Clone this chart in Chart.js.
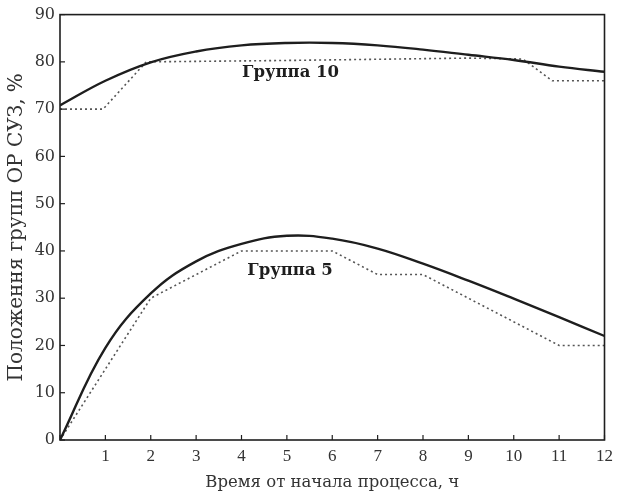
<!DOCTYPE html>
<html>
<head>
<meta charset="utf-8">
<script src="https://cdn.jsdelivr.net/npm/chart.js@4.4.1/dist/chart.umd.min.js"></script>
<style>
  html, body { margin: 0; padding: 0; background: #fff; }
  #wrap { width: 619px; height: 498px; }
</style>
</head>
<body>
<div id="wrap"><canvas id="c" width="619" height="498"></canvas></div>
<script>
// ---- data ----
const hours = [0, 1, 2, 3, 4, 5, 6, 7, 8, 9, 10, 11, 12];
const group10Calc = [70.8, 76, 79.9, 82.2, 83.5, 84, 84, 83.5, 82.6, 81.5, 80.4, 79, 77.9];
const group10MeasX = [0, 0.95, 1.9, 5, 9, 10.2, 10.85, 12];
const group10MeasY = [70, 70, 80, 80.3, 80.8, 80.6, 76, 76];
const group5Calc = [0, 19.5, 31, 37.8, 41.5, 43.2, 42.6, 40.5, 37.3, 33.7, 29.9, 26, 22];
const group5MeasX = [0, 1, 2, 3, 4, 6, 7, 8, 11, 12];
const group5MeasY = [0, 15, 30, 35, 40, 40, 35, 35, 20, 20];
const xTicks = [0, 1, 2, 3, 4, 5, 6, 7, 8, 9, 10, 11, 12];
const yTicks = [0, 10, 20, 30, 40, 50, 60, 70, 80, 90];
const curveNames = ['Группа 10', 'Группа 5'];
const yTitle = 'Положення групп ОР СУЗ, %';
const xTitle = 'Время от начала процесса, ч';

const toXY = (xs, ys) => xs.map((x, i) => ({ x: x, y: ys[i] }));

const INK = '#1e1e1e';
const SERIF = '"Liberation Serif", "DejaVu Serif", serif';
const WIDE = '"DejaVu Serif", "Liberation Serif", serif';

const framePlugin = {
  id: 'frame',
  afterDraw(chart, args, opts) {
    const { ctx, chartArea: a, scales } = chart;
    ctx.save();
    ctx.strokeStyle = INK;
    ctx.lineWidth = 1.6;
    ctx.strokeRect(a.left, a.top, a.right - a.left, a.bottom - a.top);
    ctx.lineWidth = 1.2;
    xTicks.forEach(v => {
      const px = scales.x.getPixelForValue(v);
      ctx.beginPath(); ctx.moveTo(px, a.bottom); ctx.lineTo(px, a.bottom - 5); ctx.stroke();
    });
    yTicks.forEach(v => {
      const py = scales.y.getPixelForValue(v);
      ctx.beginPath(); ctx.moveTo(a.left, py); ctx.lineTo(a.left + 5, py); ctx.stroke();
    });
    ctx.fillStyle = INK;
    ctx.font = 'bold 16.5px ' + WIDE;
    ctx.textAlign = 'center';
    ctx.textBaseline = 'middle';
    opts.items.forEach(it => {
      ctx.fillText(it.text, scales.x.getPixelForValue(it.x), scales.y.getPixelForValue(it.y));
    });
    ctx.restore();
  }
};

new Chart(document.getElementById('c'), {
  type: 'line',
  data: {
    datasets: [
      { label: 'g10 calc', data: toXY(hours, group10Calc), borderColor: INK, borderWidth: 2.4, tension: 0.4, pointRadius: 0 },
      { label: 'g10 meas', data: toXY(group10MeasX, group10MeasY), borderColor: '#555', borderWidth: 1.6, borderDash: [2, 3], tension: 0, pointRadius: 0 },
      { label: 'g5 calc', data: toXY(hours, group5Calc), borderColor: INK, borderWidth: 2.4, tension: 0.4, pointRadius: 0 },
      { label: 'g5 meas', data: toXY(group5MeasX, group5MeasY), borderColor: '#555', borderWidth: 1.6, borderDash: [2, 3], tension: 0, pointRadius: 0 }
    ]
  },
  options: {
    responsive: false,
    animation: false,
    events: [],
    layout: { padding: { top: 13, right: 12, left: 0, bottom: 0 } },
    plugins: {
      legend: { display: false },
      tooltip: { enabled: false },
      frame: { items: [
        { text: curveNames[0], x: 5.08, y: 77.8 },
        { text: curveNames[1], x: 5.07, y: 35.9 }
      ] }
    },
    scales: {
      x: {
        type: 'linear', min: 0, max: 12,
        afterFit(s) { s.height = 58; },
        afterBuildTicks(s) { s.ticks = xTicks.map(v => ({ value: v })); },
        grid: { display: false, drawTicks: false },
        border: { display: false },
        ticks: { color: '#333', font: { family: SERIF, size: 17 }, padding: 6,
                 callback: v => (v === 0 ? '' : String(v)), maxRotation: 0, autoSkip: false },
        title: { display: true, text: xTitle, color: '#333', font: { family: WIDE, size: 16.5 }, padding: { top: 0, bottom: 5 } }
      },
      y: {
        type: 'linear', min: 0, max: 90,
        afterFit(s) { s.width = 60; },
        afterBuildTicks(s) { s.ticks = yTicks.map(v => ({ value: v })); },
        grid: { display: false, drawTicks: false },
        border: { display: false },
        ticks: { color: '#333', font: { family: WIDE, size: 16 }, padding: 5, autoSkip: false },
        title: { display: true, text: yTitle, color: '#333', font: { family: WIDE, size: 20 }, padding: { top: 5, bottom: 0 } }
      }
    }
  },
  plugins: [framePlugin]
});
</script>
</body>
</html>
